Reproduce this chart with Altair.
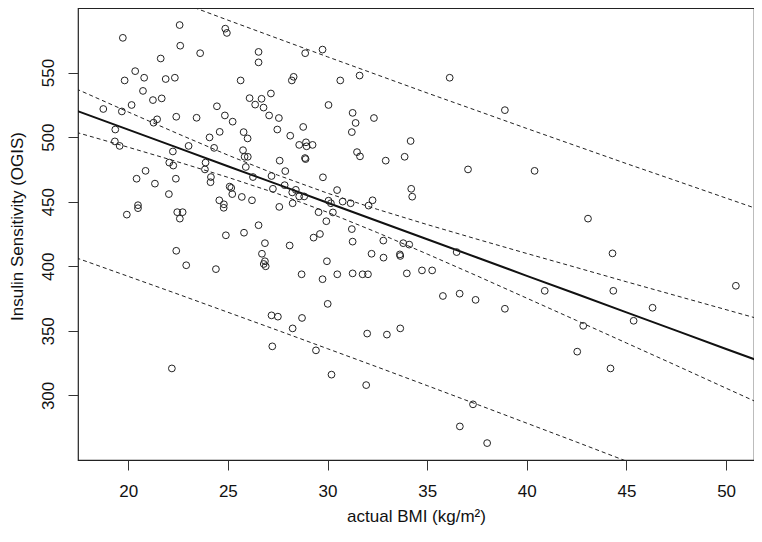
import altair as alt
import pandas as pd

# Scatter data (BMI, OGIS)
bmi = [22.58, 19.73, 22.61, 24.87, 24.95, 23.61, 21.63, 20.35, 19.82, 20.80,
       21.88, 22.34, 20.74, 21.24, 21.68, 20.17, 18.75, 19.68, 21.27, 21.45,
       22.41, 23.43, 24.45, 24.85, 25.24, 25.64, 26.09, 26.37, 26.54, 26.54,
       19.35, 19.33, 19.57, 22.24, 23.03, 24.08, 24.31, 24.59, 25.79, 25.99,
       25.76, 25.84, 26.00, 25.90, 26.26, 22.06, 22.26, 23.88, 23.85, 20.87,
       20.42, 22.39, 21.34, 24.15, 24.13, 25.09, 25.17, 25.22, 22.04, 24.57,
       24.80, 24.79, 25.70, 26.21, 19.93, 20.49, 20.49, 22.46, 22.73, 22.59,
       24.90, 25.81, 26.54, 22.41, 22.91, 24.40,
       28.88, 29.75, 28.30, 28.21, 30.64, 31.61, 36.13, 38.90,
       26.69, 27.16, 26.79, 27.07, 27.56, 27.48, 30.05, 31.26, 31.41, 31.22,
       32.33, 28.78, 28.13, 28.58, 28.92, 28.95, 29.25, 28.87, 28.90, 34.17,
       31.48, 31.63, 33.87, 32.92, 37.05, 27.60, 27.88, 27.19, 29.77,
       27.26, 27.85, 28.41, 28.23, 28.58, 28.83, 28.25, 27.58, 30.48, 30.05,
       30.17, 30.76, 31.16, 32.26, 32.06, 34.20, 34.25,
       29.55, 30.27, 29.94, 31.22, 29.30, 29.62, 31.26, 32.80, 33.80, 34.10,
       36.48, 26.86, 28.10, 26.71, 26.86, 26.80, 26.90, 29.97, 32.21, 32.81,
       33.63, 33.65,
       28.70, 29.75, 30.49, 31.26, 31.76, 32.03, 33.98, 34.74, 35.25, 35.79,
       36.63, 37.43, 38.90, 30.01, 27.19, 27.51, 28.72, 28.25, 27.23, 29.42,
       31.99, 32.98, 33.65, 30.20, 31.94, 37.30, 36.64, 38.01,
       22.19,
       40.39, 43.07, 44.30,
       40.90, 44.34, 46.31, 45.36, 42.83, 42.53, 44.20, 50.49]

ogis = [586.8, 576.9, 570.8, 584.0, 580.7, 565.0, 560.9, 551.1, 543.9, 546.0,
        545.0, 546.0, 535.8, 528.7, 530.0, 524.9, 521.8, 519.9, 511.2, 513.8,
        515.8, 515.0, 523.9, 516.8, 512.0, 543.9, 530.2, 525.2, 566.0, 557.9,
        505.9, 496.7, 493.2, 488.9, 493.2, 499.8, 491.7, 504.1, 503.9, 499.0,
        489.9, 484.8, 484.8, 476.9, 469.1, 480.3, 478.0, 480.3, 475.0, 473.9,
        467.8, 467.8, 464.0, 469.1, 465.1, 461.7, 460.7, 455.9, 455.9, 451.1,
        448.0, 445.3, 453.7, 451.1, 440.0, 447.3, 445.0, 441.9, 441.9, 436.9,
        424.0, 426.0, 431.8, 412.0, 400.8, 397.8,
        565.0, 567.8, 546.7, 543.9, 543.9, 547.7, 546.0, 520.9,
        529.7, 533.8, 522.9, 516.8, 514.8, 505.9, 524.9, 518.8, 511.0, 503.9,
        514.8, 507.9, 501.1, 494.0, 496.0, 492.9, 494.0, 483.8, 483.0, 497.0,
        488.4, 485.1, 484.8, 481.8, 475.0, 481.8, 473.7, 469.9, 468.9,
        460.0, 462.8, 459.2, 457.2, 454.1, 454.1, 448.8, 446.0, 459.0, 450.8,
        448.8, 450.1, 448.8, 451.1, 447.0, 460.0, 453.9,
        441.9, 441.7, 434.9, 428.8, 422.2, 425.0, 419.1, 419.9, 417.9, 416.8,
        411.0, 417.9, 416.1, 409.7, 403.9, 401.8, 400.0, 403.9, 409.7, 406.7,
        409.2, 408.0,
        393.8, 390.0, 393.8, 394.5, 393.8, 393.8, 394.5, 396.8, 396.8, 377.0,
        378.8, 374.0, 367.1, 370.9, 362.0, 361.0, 360.0, 351.9, 338.0, 334.9,
        347.9, 347.1, 351.9, 316.1, 308.0, 293.1, 276.0, 263.1,
        320.9,
        473.9, 436.9, 410.0,
        381.0, 381.0, 367.9, 357.8, 353.9, 333.9, 320.9, 384.9]

# Fitted line and bands
band_x   = [17.4, 20, 22.5, 25, 27.5, 30, 32.5, 35, 37.5, 40, 42.5, 45, 47.5, 50, 51.8]
fit_y    = [520.5, 505.8, 491.7, 477.5, 463.4, 449.2, 435.1, 420.9, 406.8, 392.6, 378.5, 364.3, 350.2, 336.0, 325.8]
ci_upper = [537.3, 519.5, 502.6, 486.1, 470.6, 456.6, 444.1, 432.3, 421.0, 409.9, 399.0, 388.0, 377.2, 366.4, 358.6]
ci_lower = [503.7, 492.2, 480.8, 468.9, 456.2, 441.8, 426.1, 409.5, 392.6, 375.3, 358.0, 340.6, 323.2, 305.6, 293.0]
pi_upper = [634.5, 619.4, 605.0, 590.6, 576.4, 562.2, 548.2, 534.2, 520.5, 506.7, 493.1, 479.5, 466.2, 452.8, 443.2]
pi_lower = [406.5, 392.2, 378.4, 364.4, 350.4, 336.2, 322.0, 307.6, 293.1, 278.5, 263.9, 249.1, 234.2, 219.2, 208.4]

x_ticks = [20, 25, 30, 35, 40, 45, 50]
y_ticks = [300, 350, 400, 450, 500, 550]

pts = pd.DataFrame({"bmi": bmi, "ogis": ogis})
fit_df = pd.DataFrame({"bmi": band_x, "ogis": fit_y})
bands = []
for name, vals in [("ci_upper", ci_upper), ("ci_lower", ci_lower),
                   ("pi_upper", pi_upper), ("pi_lower", pi_lower)]:
    for xv, yv in zip(band_x, vals):
        bands.append({"bmi": xv, "ogis": yv, "band": name})
band_df = pd.DataFrame(bands)

FONT = "Liberation Sans"

xs = alt.Scale(domain=[17.48, 51.40], nice=False, zero=False)
ys = alt.Scale(domain=[250, 600], nice=False, zero=False)

x_axis = alt.Axis(values=x_ticks, title="actual BMI (kg/m²)", grid=False, domain=False,
                  tickSize=10, tickColor="#333", tickWidth=1,
                  labelFontSize=17, labelFont=FONT, labelColor="#111", labelPadding=13,
                  labelFlush=False,
                  titleFontSize=17, titleFont=FONT, titleFontWeight="normal", titleColor="#111",
                  titleY=61, titleBaseline="alphabetic")
y_axis = alt.Axis(values=y_ticks, title="Insulin Sensitivity (OGIS)", grid=False, domain=False,
                  tickSize=10, tickColor="#333", tickWidth=1,
                  labelFontSize=17, labelFont=FONT, labelColor="#111", labelPadding=15,
                  labelAngle=270, labelAlign="center", labelBaseline="alphabetic",
                  labelFlush=False,
                  titleFontSize=17, titleFont=FONT, titleFontWeight="normal", titleColor="#111",
                  titleAngle=270, titleAlign="center", titleBaseline="alphabetic",
                  titleX=-56, titleY=218)

points = alt.Chart(pts).mark_point(shape="circle", filled=False, size=46,
                                    stroke="#222", strokeWidth=1, opacity=1).encode(
    x=alt.X("bmi:Q", scale=xs, axis=x_axis),
    y=alt.Y("ogis:Q", scale=ys, axis=y_axis),
)

fit_line = alt.Chart(fit_df).mark_line(color="#111", strokeWidth=2, clip=True).encode(
    x=alt.X("bmi:Q", scale=xs),
    y=alt.Y("ogis:Q", scale=ys),
)

band_lines = alt.Chart(band_df).mark_line(color="#222", strokeWidth=1,
                                          strokeDash=[4, 3], clip=True).encode(
    x=alt.X("bmi:Q", scale=xs),
    y=alt.Y("ogis:Q", scale=ys),
    detail="band:N",
)

chart = alt.layer(band_lines, fit_line, points).properties(
    width=676, height=452,
    padding={"left": 70, "top": 0, "right": 0, "bottom": 66},
    autosize="none",
    background="white",
).configure_view(stroke="#222", strokeWidth=1.2)

chart.save("out.html", embed_options={"renderer": "svg", "actions": False})
